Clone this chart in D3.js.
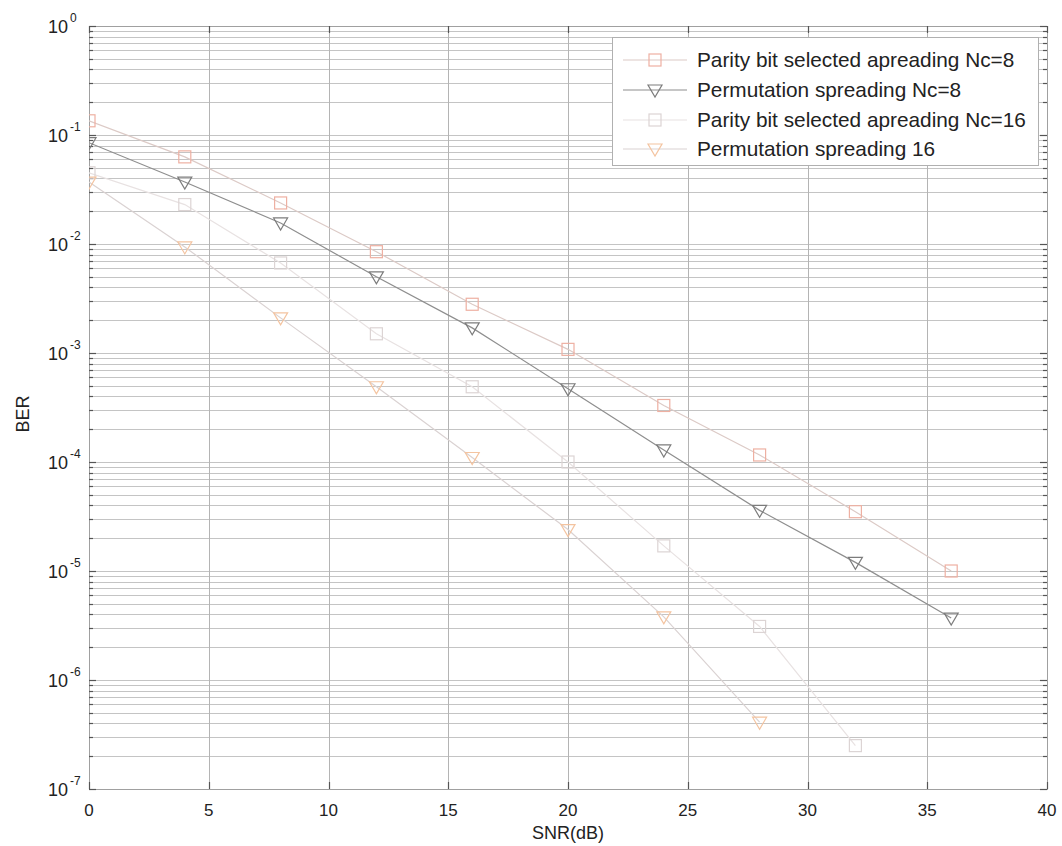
<!DOCTYPE html>
<html>
<head>
<meta charset="utf-8">
<script src="https://cdn.jsdelivr.net/npm/d3@7"></script>
<style>
  html, body { margin: 0; padding: 0; background: #fff; }
  svg { display: block; font-family: "Liberation Sans", Arial, sans-serif; }
</style>
</head>
<body>
<svg id="chart" width="1062" height="846"></svg>
<script>
// ---- data ----
const snrS1 = [0, 4, 8, 12, 16, 20, 24, 28, 32, 36];
const berParityNc8 = [0.135, 0.063, 0.0238, 0.0085, 0.0028, 0.00108, 0.00033, 0.000116, 0.000035, 0.00001];
const snrS2 = [0, 4, 8, 12, 16, 20, 24, 28, 32, 36];
const berPermNc8 = [0.085, 0.037, 0.0156, 0.0050, 0.0017, 0.00047, 0.000129, 0.000036, 0.000012, 0.0000037];
const snrS3 = [0, 4, 8, 12, 16, 20, 24, 28, 32];
const berParityNc16 = [0.045, 0.023, 0.0067, 0.0015, 0.00049, 0.0001, 0.000017, 0.0000031, 0.00000025];
const snrS4 = [0, 4, 8, 12, 16, 20, 24, 28];
const berPermNc16 = [0.037, 0.0094, 0.0021, 0.00049, 0.00011, 0.000024, 0.0000038, 0.00000041];
const legendLabels = [
  "Parity bit selected apreading Nc=8",
  "Permutation spreading Nc=8",
  "Parity bit selected apreading Nc=16",
  "Permutation spreading 16"
];
const xTicks = [0, 5, 10, 15, 20, 25, 30, 35, 40];
const yDecades = [0, -1, -2, -3, -4, -5, -6, -7];
const xLabel = "SNR(dB)";
const yLabel = "BER";

// ---- layout ----
const L = 89, R = 1047, T = 26, B = 789;
const svg = d3.select("#chart");
const x = d3.scaleLinear().domain([0, 40]).range([L, R]);
const y = d3.scaleLog().domain([1e-7, 1]).range([B, T]);

// grid
const minorVals = [];
for (let e = -7; e < 0; e++) for (let m = 1; m <= 9; m++) minorVals.push(m * Math.pow(10, e));
minorVals.push(1);
const grid = svg.append("g");
grid.selectAll("line.h").data(minorVals).join("line")
  .attr("x1", L).attr("x2", R)
  .attr("y1", d => Math.round(y(d)) + 0.5).attr("y2", d => Math.round(y(d)) + 0.5)
  .attr("stroke", "#c4c4c4").attr("stroke-width", 1);
grid.selectAll("line.v").data(xTicks.slice(1, -1)).join("line")
  .attr("y1", T).attr("y2", B)
  .attr("x1", d => Math.round(x(d)) + 0.5).attr("x2", d => Math.round(x(d)) + 0.5)
  .attr("stroke", "#b4b4b4").attr("stroke-width", 1);

// box
svg.append("rect").attr("x", L + 0.5).attr("y", T + 0.5).attr("width", R - L).attr("height", B - T)
  .attr("fill", "none").attr("stroke", "#a0a0a0").attr("stroke-width", 1);

// ticks (inward, MATLAB style)
const tk = svg.append("g").attr("stroke", "#555").attr("stroke-width", 1.2);
minorVals.forEach(v => {
  const yy = Math.round(y(v)) + 0.5;
  const major = Math.abs(Math.log10(v) - Math.round(Math.log10(v))) < 1e-9;
  const len = major ? 7 : 4;
  tk.append("line").attr("x1", L).attr("x2", L + len).attr("y1", yy).attr("y2", yy);
  tk.append("line").attr("x1", R - len).attr("x2", R).attr("y1", yy).attr("y2", yy);
});
xTicks.forEach(v => {
  const xx = Math.round(x(v)) + 0.5;
  tk.append("line").attr("x1", xx).attr("x2", xx).attr("y1", B).attr("y2", B - 7);
  tk.append("line").attr("x1", xx).attr("x2", xx).attr("y1", T).attr("y2", T + 7);
});

// tick labels
const lab = svg.append("g").attr("fill", "#222");
xTicks.forEach(v => {
  lab.append("text").attr("x", x(v)).attr("y", 816).attr("text-anchor", "middle")
    .attr("font-size", 17).text(v);
});
yDecades.forEach(e => {
  const yy = y(Math.pow(10, e));
  lab.append("text").attr("x", 68).attr("y", yy + 7).attr("text-anchor", "end")
    .attr("font-size", 18).text("10");
  lab.append("text").attr("x", 70).attr("y", yy - 4).attr("text-anchor", "start")
    .attr("font-size", 12).text(String(e));
});
lab.append("text").attr("x", (L + R) / 2).attr("y", 839).attr("text-anchor", "middle")
  .attr("font-size", 18).text(xLabel);
lab.append("text").attr("transform", "translate(29,414) rotate(-90)").attr("text-anchor", "middle")
  .attr("font-size", 18).text(yLabel);

// series
const series = [
  { xs: snrS1, ys: berParityNc8, line: "#dccac6", mk: "#eeb0a2", shape: "square" },
  { xs: snrS2, ys: berPermNc8, line: "#8e8e8e", mk: "#7c7c7c", shape: "tri" },
  { xs: snrS3, ys: berParityNc16, line: "#e8e2e2", mk: "#dcd4d4", shape: "square" },
  { xs: snrS4, ys: berPermNc16, line: "#dad2d2", mk: "#f4c4a0", shape: "tri" }
];
svg.append("clipPath").attr("id", "pc").append("rect")
  .attr("x", L).attr("y", T).attr("width", R - L).attr("height", B - T);
const plot = svg.append("g").attr("clip-path", "url(#pc)");
const lineGen = d3.line().x(d => x(d[0])).y(d => y(d[1]));

function drawMarker(g, shape, cx, cy, color) {
  if (shape === "square") {
    g.append("rect").attr("x", cx - 6).attr("y", cy - 6).attr("width", 12).attr("height", 12)
      .attr("fill", "none").attr("stroke", color).attr("stroke-width", 1.2);
  } else {
    g.append("path").attr("d", `M${cx - 7},${cy - 5} L${cx + 7},${cy - 5} L${cx},${cy + 7} Z`)
      .attr("fill", "none").attr("stroke", color).attr("stroke-width", 1.2);
  }
}

series.forEach(s => {
  const pts = s.xs.map((v, i) => [v, s.ys[i]]);
  plot.append("path").attr("d", lineGen(pts)).attr("fill", "none")
    .attr("stroke", s.line).attr("stroke-width", 1.2);
  pts.forEach(p => drawMarker(plot, s.shape, x(p[0]), y(p[1]), s.mk));
});

// legend
const lg = svg.append("g");
lg.append("rect").attr("x", 612.5).attr("y", 37.5).attr("width", 426).attr("height", 128)
  .attr("fill", "#fff").attr("stroke", "#b0b0b0").attr("stroke-width", 1);
const rowY = [60, 90, 120, 149];
series.forEach((s, i) => {
  const yy = rowY[i];
  lg.append("line").attr("x1", 623).attr("x2", 687).attr("y1", yy).attr("y2", yy)
    .attr("stroke", s.line).attr("stroke-width", 1.2);
  drawMarker(lg, s.shape, 655, yy, s.mk);
  lg.append("text").attr("x", 697).attr("y", yy + 7).attr("font-size", 20.8)
    .attr("fill", "#222").text(legendLabels[i]);
});
</script>
</body>
</html>
